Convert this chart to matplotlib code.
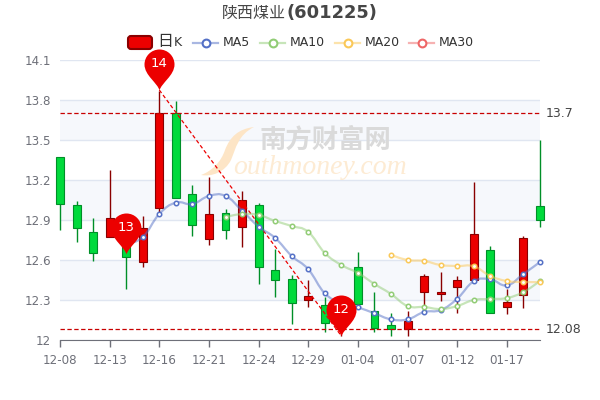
import numpy as np
import matplotlib
matplotlib.use("Agg")
import matplotlib.pyplot as plt
from matplotlib.lines import Line2D
from matplotlib.patches import FancyBboxPatch, PathPatch
from matplotlib.path import Path
from matplotlib.transforms import Affine2D

nan = float("nan")

# ─── Data ─────────────────────────────────────────────────────────────────────
dates = ["12-08", "12-09", "12-12", "12-13", "12-14", "12-15", "12-16", "12-19",
         "12-20", "12-21", "12-22", "12-23", "12-24", "12-27", "12-28", "12-29",
         "12-30", "12-31", "01-04", "01-05", "01-06", "01-07", "01-10", "01-11",
         "01-12", "01-13", "01-14", "01-17", "01-18", "01-19"]
opens = [13.37, 13.01, 12.81, 12.77, 12.78, 12.585, 12.99, 13.70, 13.095, 12.76,
         12.95, 12.85, 13.01, 12.525, 12.455, 12.30, 12.26, 12.16, 12.55, 12.215,
         12.11, 12.08, 12.36, 12.345, 12.40, 12.45, 12.675, 12.25, 12.34, 13.005]
closes = [13.02, 12.84, 12.65, 12.915, 12.62, 12.84, 13.70, 13.065, 12.86, 12.945,
          12.825, 13.05, 12.55, 12.45, 12.28, 12.33, 12.13, 12.22, 12.27, 12.09,
          12.08, 12.14, 12.48, 12.36, 12.45, 12.795, 12.20, 12.285, 12.765, 12.90]
lows = [12.825, 12.735, 12.59, 12.77, 12.38, 12.55, 12.95, 13.065, 12.78, 12.71,
        12.76, 12.70, 12.42, 12.32, 12.12, 12.25, 12.06, 12.03, 12.27, 12.06,
        12.03, 12.03, 12.25, 12.29, 12.20, 12.45, 12.20, 12.195, 12.24, 12.85]
highs = [13.37, 13.04, 12.915, 13.275, 12.80, 12.93, 13.87, 13.79, 13.16, 13.22,
         12.98, 13.12, 13.03, 12.68, 12.49, 12.45, 12.32, 12.25, 12.66, 12.36,
         12.20, 12.22, 12.495, 12.51, 12.48, 13.185, 12.705, 12.38, 12.78, 13.50]
ma5 = [nan, nan, nan, nan, 12.72, 12.7725, 12.945, 13.03, 13.02, 13.08, 13.08,
       12.97, 12.85, 12.765, 12.63, 12.53, 12.35, 12.28, 12.245, 12.20, 12.155,
       12.155, 12.21, 12.225, 12.31, 12.44, 12.455, 12.41, 12.495, 12.585]
ma10 = [nan] * 10 + [12.9225, 12.945, 12.9375, 12.8925, 12.855, 12.81, 12.6525,
                     12.5625, 12.5025, 12.42, 12.345, 12.255, 12.2475, 12.2325,
                     12.255, 12.30, 12.3075, 12.315, 12.36, 12.4425]
ma20 = [nan] * 20 + [12.6375, 12.60, 12.5925, 12.5625, 12.555, 12.5525, 12.48,
                     12.4425, 12.435, 12.435]
y_ticks = [12, 12.3, 12.6, 12.9, 13.2, 13.5, 13.8, 14.1]
y_labels = ["12", "12.3", "12.6", "12.9", "13.2", "13.5", "13.8", "14.1"]
pin_index = [6, 4, 17]
pin_value = [13.875, 12.645, 12.03]
pin_label = ["14", "13", "12"]
mark_levels = [13.7, 12.08]
mark_labels = ["13.7", "12.08"]

UP, UP_EDGE = "#ec0000", "#8a0000"
DOWN, DOWN_EDGE = "#00da3c", "#008f28"
MA_COLORS = {"MA5": "#5470c6", "MA10": "#91cc75", "MA20": "#fac858", "MA30": "#ee6666"}
AXIS = "#6e7079"
CJK = ["Noto Sans CJK SC", "DejaVu Sans"]


def smooth_path(xs, ys, k=0.22):
    """Bezier path through the points, a bit like the echarts smooth line."""
    p = np.array([(x, y) for x, y in zip(xs, ys) if not np.isnan(y)])
    verts = [p[0]]
    codes = [Path.MOVETO]
    for i in range(len(p) - 1):
        prev = p[max(i - 1, 0)]
        nxt = p[min(i + 2, len(p) - 1)]
        verts += [p[i] + (p[i + 1] - prev) * k, p[i + 1] - (nxt - p[i]) * k, p[i + 1]]
        codes += [Path.CURVE4] * 3
    return Path(verts, codes)


def pin_marker():
    """Teardrop with its tip at the origin, circle radius 1."""
    h = 26 / 15
    c = 0.5523
    verts = [(0, 0), (-0.12, 0.5), (-1, 1.0), (-1, h),
             (-1, h + c), (-c, h + 1), (0, h + 1),
             (c, h + 1), (1, h + c), (1, h),
             (1, 1.0), (0.12, 0.5), (0, 0), (0, 0)]
    codes = [Path.MOVETO] + [Path.CURVE4] * 12 + [Path.CLOSEPOLY]
    return Path(verts, codes), h


fig = plt.figure(figsize=(6, 4), dpi=100, facecolor="white")
ax = fig.add_axes([60 / 600, 60 / 400, 480 / 600, 280 / 400])
ax.set_xlim(0, len(dates) - 1)
ax.set_ylim(12, 14.1)
# pixel coordinates of the picture, for legend and watermark
px = Affine2D().scale(1 / 600, -1 / 400).translate(0, 1) + fig.transFigure

x = np.arange(len(dates))

# ── Axes and bands ────────────────────────────────────────────────────────────
for lo, hi in zip(y_ticks[1::2], y_ticks[2::2]):
    ax.axhspan(lo, hi, color="#f6f8fc", lw=0, zorder=0)
ax.set_yticks(y_ticks, y_labels)
ax.set_xticks(x[::3], dates[::3])
ax.grid(axis="y", color="#e0e6f1", lw=1, zorder=0.5)
ax.set_axisbelow(True)
for name, spine in ax.spines.items():
    spine.set_visible(name == "bottom")
ax.spines["bottom"].set_color(AXIS)
ax.spines["bottom"].set_zorder(2)
ax.tick_params(axis="y", length=0, pad=6.5, labelcolor=AXIS, labelsize=8.6)
ax.tick_params(axis="x", length=5, width=1, color=AXIS, pad=5, labelcolor=AXIS, labelsize=8.6)

# ── Watermark ─────────────────────────────────────────────────────────────────
s_verts = [(254, 127), (238, 129), (230, 137), (225, 150), (221, 162), (212, 171), (201, 175),
           (212, 177), (225, 172), (231, 160), (236, 148), (238, 135), (254, 127), (254, 127)]
s_codes = [Path.MOVETO] + [Path.CURVE4] * 12 + [Path.CLOSEPOLY]
ax.add_patch(PathPatch(Path(s_verts, s_codes), fc="#fde5c6", ec="none", transform=px,
                       clip_on=False, zorder=1))
ax.text(325, 140, "南方财富网", transform=px, family=CJK, fontweight="bold", fontsize=19,
        color="#dadada", ha="center", va="center", zorder=1)
ax.text(320, 167, "outhmoney.com", transform=px, family="Liberation Serif", style="italic",
        fontsize=20, color="#fdebd3", ha="center", va="center", zorder=1)

# ── Candles ───────────────────────────────────────────────────────────────────
for i, (o, c, lo, hi) in enumerate(zip(opens, closes, lows, highs)):
    fill, edge = (UP, UP_EDGE) if c > o else (DOWN, DOWN_EDGE)
    ax.vlines(i, lo, hi, color=edge, lw=1, zorder=3, clip_on=False)
    ax.bar(i, abs(c - o), bottom=min(o, c), width=0.48, color=fill, edgecolor=edge,
           lw=0.8, zorder=3.1, clip_on=False)

# ── Moving averages ───────────────────────────────────────────────────────────
for name, values in (("MA5", ma5), ("MA10", ma10), ("MA20", ma20)):
    color = MA_COLORS[name]
    ax.add_patch(PathPatch(smooth_path(x, values), fc="none", ec=color, lw=1.6, alpha=0.5,
                           zorder=4, clip_on=False))
    ax.plot(x, values, ls="none", marker="o", ms=3.2, mfc="white", mec=color, mew=1.1,
            zorder=4.1, clip_on=False)

# ── Mark lines ────────────────────────────────────────────────────────────────
for level, label in zip(mark_levels, mark_labels):
    ax.axhline(level, color="#c80000", lw=0.9, ls=(0, (3.5, 2)), zorder=3.5)
    ax.annotate(label, (1, level), xycoords=("axes fraction", "data"), xytext=(3.8, 0),
                textcoords="offset points", va="center", fontsize=9, color="#444444")
ax.plot([pin_index[0], pin_index[2]], [pin_value[0], pin_value[2]], color="#ec0000", lw=0.9,
        ls=(0, (3, 2)), zorder=3.5, clip_on=False)

# ── Pins ──────────────────────────────────────────────────────────────────────
pin_path, pin_h = pin_marker()
radius_pt = 15 * 0.72
pin_size = 2 * (pin_h + 1) * radius_pt
for i, v, label in zip(pin_index, pin_value, pin_label):
    ax.plot(i, v, marker=pin_path, ms=pin_size, mfc="#ec0000", mec="none", mew=0, zorder=6,
            clip_on=False)
    ax.annotate(label, (i, v), xytext=(0, pin_h * radius_pt), textcoords="offset points",
                ha="center", va="center", color="white", fontsize=9.5, zorder=7)

# ── Title ─────────────────────────────────────────────────────────────────────
ax.text(286, 13, "陕西煤业", transform=px, family=CJK, fontsize=11.5, color="#464646",
        ha="right", va="center")
ax.text(286, 13, "(601225)", transform=px, fontsize=12.9, fontweight="bold", color="#464646",
        ha="left", va="center")

# ── Legend ────────────────────────────────────────────────────────────────────
legend_y = 42.5
ax.add_patch(FancyBboxPatch((128, legend_y - 6.5), 24, 13, boxstyle="round,pad=0,rounding_size=3",
                            fc=UP, ec=UP_EDGE, lw=1.5, transform=px, clip_on=False, zorder=5))
ax.text(157, legend_y - 1, "日", transform=px, family=CJK, fontsize=11.5, color="#333333",
        ha="left", va="center")
ax.text(174, legend_y, "K", transform=px, fontsize=9, color="#333333", ha="left", va="center")
for name, start in zip(MA_COLORS, (193, 260, 335, 409)):
    color = MA_COLORS[name]
    ax.add_line(Line2D([start, start + 25], [legend_y, legend_y], color=color, lw=1.6, alpha=0.5,
                       transform=px, clip_on=False, zorder=5))
    ax.add_line(Line2D([start + 12.5], [legend_y], marker="o", ms=5.6, mfc="white", mec=color,
                       mew=1.5, transform=px, clip_on=False, zorder=5.1))
    ax.text(start + 30, legend_y, name, transform=px, fontsize=9, color="#333333",
            ha="left", va="center")

fig.savefig("out.png", dpi=100)
